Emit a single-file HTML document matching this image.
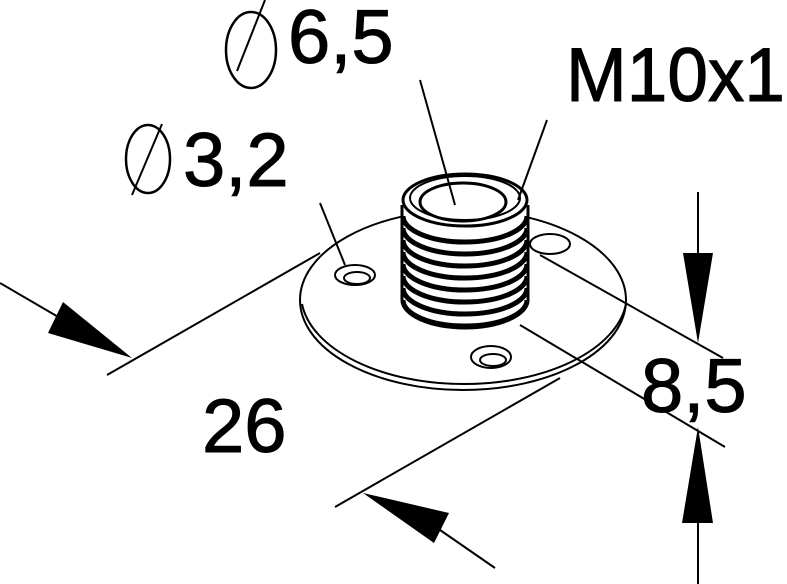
<!DOCTYPE html>
<html><head><style>html,body{margin:0;padding:0;background:#fff;}svg{display:block}</style></head>
<body>
<svg width="787" height="584" viewBox="0 0 787 584" xmlns="http://www.w3.org/2000/svg">
<g fill="none" stroke="#000" stroke-width="2">
<!-- disc -->
<ellipse cx="463" cy="300" rx="163" ry="90"/>
<path d="M302,304 A163,90 0 0 0 626,304" stroke-width="2"/>
<!-- holes -->
<ellipse cx="355" cy="275" rx="20" ry="10"/>
<ellipse cx="357" cy="278" rx="13" ry="6"/>
<ellipse cx="550" cy="244" rx="20" ry="10"/>
<ellipse cx="491" cy="357" rx="20" ry="11"/>
<ellipse cx="493" cy="360" rx="13" ry="6"/>
<!-- thread cylinder -->
<path d="M402,205 L402,300 A63,28 0 0 0 528,300 L528,205" fill="#fff" stroke-width="3"/>
<ellipse cx="465" cy="200" rx="62" ry="26" fill="#fff" stroke-width="3"/>
<ellipse cx="465" cy="198" rx="55" ry="22" stroke-width="2"/>
<ellipse cx="463" cy="202" rx="43" ry="19" stroke-width="3"/>
<g stroke-width="5">
<path d="M403,216 A62,26 0 0 0 527,216"/>
<path d="M403,228 A62,26 0 0 0 527,228"/>
<path d="M403,240 A62,26 0 0 0 527,240"/>
<path d="M403,252 A62,26 0 0 0 527,252"/>
<path d="M403,264 A62,26 0 0 0 527,264"/>
<path d="M403,276 A62,26 0 0 0 527,276"/>
<path d="M403,288 A62,26 0 0 0 527,288"/>
<path d="M403,300 A62,26 0 0 0 527,300"/>
</g>
<!-- leaders -->
<line x1="420" y1="80" x2="455" y2="205"/>
<line x1="547" y1="120" x2="518" y2="200"/>
<line x1="320" y1="203" x2="345" y2="265"/>
<!-- 26 dimension -->
<line x1="107" y1="375" x2="320" y2="253"/>
<line x1="335" y1="507" x2="560" y2="378"/>
<line x1="0" y1="283" x2="60" y2="318"/>
<line x1="440" y1="530" x2="495" y2="568"/>
<!-- 8,5 -->
<line x1="540" y1="255" x2="723" y2="358"/>
<line x1="520" y1="325" x2="725" y2="447"/>
<line x1="698" y1="192" x2="698" y2="255"/>
<line x1="698" y1="520" x2="698" y2="584"/>
<!-- diameter symbols -->
<ellipse cx="251" cy="50" rx="25" ry="38" stroke-width="2.5"/>
<line x1="237" y1="71" x2="265" y2="0"/>
<ellipse cx="148" cy="159" rx="22" ry="34" stroke-width="2.5"/>
<line x1="132" y1="195" x2="162" y2="124"/>
</g>
<g fill="#000">
<polygon points="132,358 48,333 63,302"/>
<polygon points="363,493 449,513 434,543"/>
<polygon points="698,343 683,253 713,253"/>
<polygon points="698,427 682,523 713,523"/>
</g>
<g font-family="Liberation Sans, sans-serif" font-size="76" fill="#000" stroke="#000" stroke-width="1">
<text x="288" y="63">6,5</text>
<text x="566" y="101" textLength="219" lengthAdjust="spacingAndGlyphs">M10x1</text>
<text x="183" y="186">3,2</text>
<text x="202" y="452">26</text>
<text x="641" y="412">8,5</text>
</g>
</svg>
</body></html>
